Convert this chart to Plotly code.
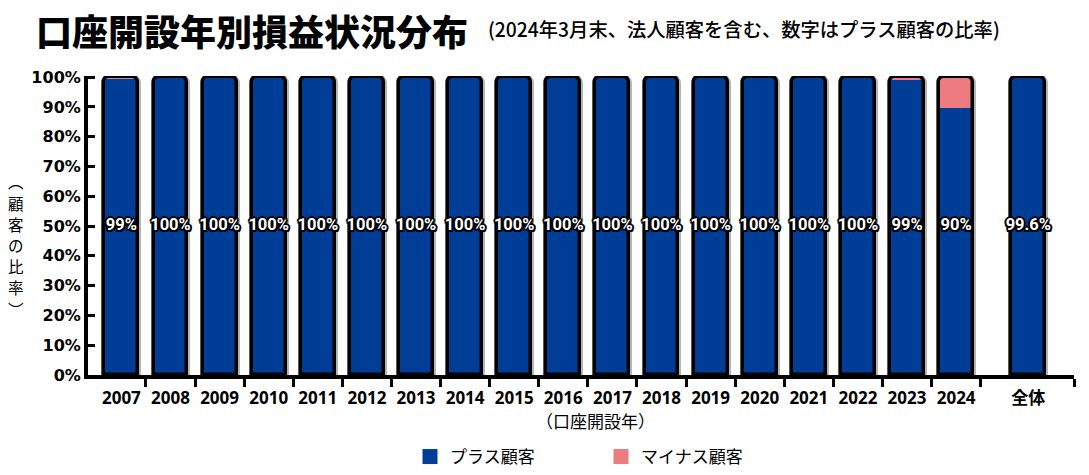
import plotly.graph_objects as go

# ---- data ----
categories = ["2007", "2008", "2009", "2010", "2011", "2012", "2013", "2014", "2015",
              "2016", "2017", "2018", "2019", "2020", "2021", "2022", "2023", "2024", "全体"]
plus_share = [99.3, 100, 100, 100, 100, 100, 100, 100, 100,
              100, 100, 100, 100, 100, 100, 100, 98.9, 89.7, 99.6]
minus_share = [0.7, 0, 0, 0, 0, 0, 0, 0, 0,
               0, 0, 0, 0, 0, 0, 0, 1.1, 10.3, 0.4]
bar_labels = ["99%", "100%", "100%", "100%", "100%", "100%", "100%", "100%", "100%",
              "100%", "100%", "100%", "100%", "100%", "100%", "100%", "99%", "90%", "99.6%"]
y_ticks = [0, 10, 20, 30, 40, 50, 60, 70, 80, 90, 100]
y_title_chars = ["︵", "顧", "客", "の", "比", "率", "︶"]

# ---- layout helpers ----
BLUE = "#003d96"
PINK = "#ee7b80"
JP = "Noto Sans CJK JP"
n_years = len(categories) - 1
xpos = list(range(n_years)) + [n_years + 0.47]
totals = [p + m for p, m in zip(plus_share, minus_share)]
boundaries = [i + 0.5 for i in range(n_years)] + [n_years + 1.4]
BW = 0.69
R = 6

fig = go.Figure()
# gray halo outline
fig.add_trace(go.Bar(x=xpos, y=totals, width=BW, marker=dict(color="rgba(0,0,0,0)",
                     line=dict(color="#b5b5b5", width=6), cornerradius=R),
                     showlegend=False, hoverinfo="skip"))
# pink (minus) drawn underneath
fig.add_trace(go.Bar(x=xpos, y=totals, width=BW, name="マイナス顧客",
                     marker=dict(color=PINK, line=dict(width=0), cornerradius=R),
                     showlegend=False))
# blue (plus)
fig.add_trace(go.Bar(x=xpos, y=plus_share, width=BW, name="プラス顧客",
                     marker=dict(color=BLUE, line=dict(width=0), cornerradius=R),
                     showlegend=False))
# black outline
fig.add_trace(go.Bar(x=xpos, y=totals, width=BW, marker=dict(color="rgba(0,0,0,0)",
                     line=dict(color="black", width=3.5), cornerradius=R),
                     showlegend=False, hoverinfo="skip"))
# value labels
shadow = ", ".join(f"{dx}px {dy}px 0 #000" for dx, dy in
                   [(-2, 0), (2, 0), (0, -2), (0, 2), (-1.5, -1.5), (1.5, -1.5), (-1.5, 1.5), (1.5, 1.5)])
fig.add_trace(go.Scatter(x=xpos, y=[50] * len(xpos), mode="text", text=bar_labels,
                         textposition="middle center",
                         textfont=dict(family="Roboto, sans-serif",
                                       size=16.5, color="white", weight="bold", shadow=shadow),
                         showlegend=False, hoverinfo="skip"))
# legend entries
fig.add_trace(go.Scatter(x=[None], y=[None], mode="markers", name="プラス顧客",
                         marker=dict(symbol="square", size=15, color=BLUE)))
fig.add_trace(go.Scatter(x=[None], y=[None], mode="markers", name="マイナス顧客",
                         marker=dict(symbol="square", size=15, color=PINK)))

fig.update_layout(
    width=1089, height=475,
    margin=dict(l=88, r=15, t=76, b=100, autoexpand=False),
    paper_bgcolor="white", plot_bgcolor="white",
    barmode="overlay", bargap=0,
    showlegend=True,
    legend=dict(orientation="h", x=(410 - 88) / 986, xanchor="left",
                y=(375 - 457) / 299, yanchor="middle",
                entrywidth=146, font=dict(family=JP, size=17, color="black"),
                itemsizing="trace"),
    font=dict(family=JP, color="black"),
)
fig.update_xaxes(range=[-0.68, n_years + 1.4], tickmode="array", tickvals=xpos, ticktext=categories,
                 ticks="", showline=True, linecolor="black", linewidth=4, showgrid=False,
                 zeroline=False, ticklabelstandoff=5,
                 tickfont=dict(family="Noto Sans, " + JP, size=17, weight="bold", color="black"),
                 minor=dict(tickmode="array", tickvals=boundaries, ticks="outside",
                            ticklen=8, tickwidth=3, tickcolor="black", showgrid=False))
fig.update_yaxes(range=[0, 100.4], tickmode="array", tickvals=y_ticks,
                 ticktext=[f"{v}%" for v in y_ticks],
                 ticks="inside", ticklen=7, tickwidth=3, tickcolor="black",
                 showline=True, linecolor="black", linewidth=4, showgrid=False, zeroline=False,
                 tickfont=dict(family="DejaVu Sans", size=16, weight="bold", color="black"))

def px_x(px):
    return (px - 88) / 986

def px_y(py):
    return (375 - py) / 299

fig.add_annotation(text="口座開設年別損益状況分布", xref="paper", yref="paper",
                   x=px_x(34), y=px_y(30), xanchor="left", yanchor="middle", showarrow=False,
                   font=dict(family=JP, size=36, weight=900, color="black"))
fig.add_annotation(text="(2024年3月末、法人顧客を含む、数字はプラス顧客の比率)", xref="paper", yref="paper",
                   x=px_x(486), y=px_y(29), xanchor="left", yanchor="middle", showarrow=False,
                   font=dict(family=JP, size=19.3, weight=500, color="black"))
y_title_pos = [181, 203, 224, 245, 266, 287, 309]
for ch, py in zip(y_title_chars, y_title_pos):
    fig.add_annotation(text=ch, xref="paper", yref="paper", borderpad=0,
                       x=px_x(16), y=px_y(py), xanchor="center", yanchor="middle", showarrow=False,
                       font=dict(family=JP, size=15.5, color="black"))
fig.add_annotation(text="（口座開設年）", xref="paper", yref="paper",
                   x=px_x(595), y=px_y(421), xanchor="center", yanchor="middle", showarrow=False,
                   font=dict(family=JP, size=17, color="black"))

fig.write_html("out.html")
